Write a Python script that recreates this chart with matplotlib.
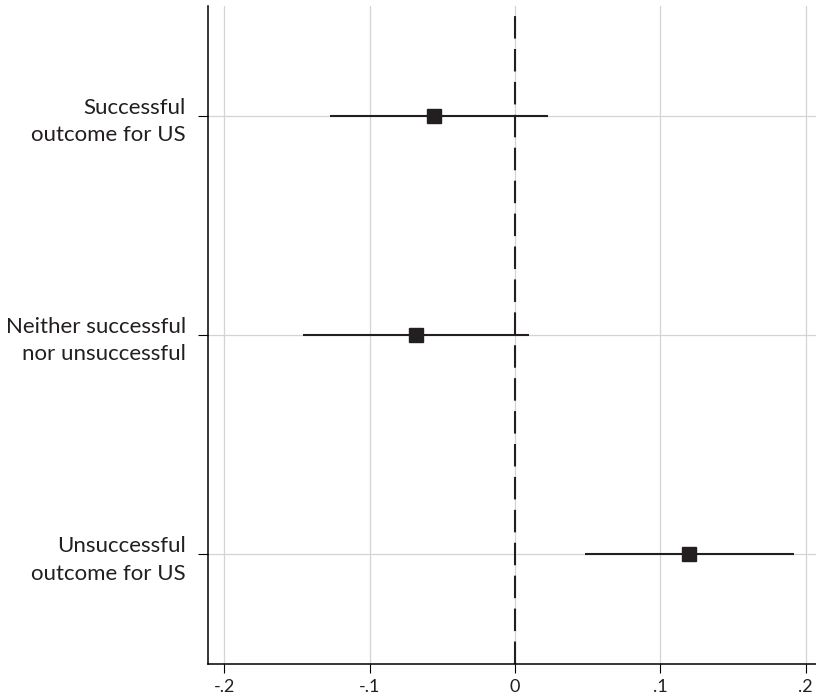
import matplotlib.pyplot as plt

# coefficient estimates with 95% intervals
labels = ["Successful\noutcome for US",
          "Neither successful\nnor unsuccessful",
          "Unsuccessful\noutcome for US"]
coef = [-0.056, -0.068, 0.120]
ci_low = [-0.127, -0.146, 0.048]
ci_high = [0.023, 0.010, 0.192]
xticks = [-0.2, -0.1, 0, 0.1, 0.2]
xticklabels = ["-.2", "-.1", "0", ".1", ".2"]

plt.rcParams['font.family'] = ['Lato', 'DejaVu Sans']

fig = plt.figure(figsize=(8.16, 6.99), dpi=100)
ax = fig.add_axes([0.2549, 0.0501, 0.7451, 0.9413])

ypos = list(range(1, len(labels) + 1))
ink = '#231f20'

ax.hlines(ypos, ci_low, ci_high, color=ink, lw=1.5, zorder=3)
ax.plot(coef, ypos, 's', color=ink, ms=9.5, zorder=4, linestyle='none')
ax.axvline(0, color=ink, lw=1.5, dashes=(10.8, 5.0), zorder=2)

ax.set_xlim(-0.2112, 0.2072)
ax.set_ylim(3.5, 0.5)
ax.set_yticks(ypos)
ax.set_yticklabels(labels, fontsize=16, color=ink, multialignment='right',
                   linespacing=1.45)
ax.set_xticks(xticks)
ax.set_xticklabels(xticklabels, fontsize=13, color=ink)

ax.grid(True, color='#d4d4d4', lw=0.9, zorder=0)
ax.set_axisbelow(True)
for side in ['top', 'right']:
    ax.spines[side].set_visible(False)
for side in ['left', 'bottom']:
    ax.spines[side].set_linewidth(1.1)
    ax.spines[side].set_color('black')
ax.tick_params(axis='y', length=7, width=0.8, pad=9)
ax.tick_params(axis='x', length=6.5, width=0.8, pad=4)

fig.savefig('out.png', dpi=100)
